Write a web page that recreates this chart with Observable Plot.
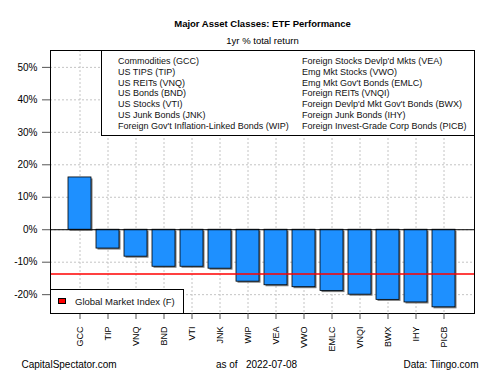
<!DOCTYPE html>
<html>
<head>
<meta charset="utf-8">
<script src="https://cdn.jsdelivr.net/npm/d3@7"></script>
<script src="https://cdn.jsdelivr.net/npm/@observablehq/plot@0.6"></script>
<style>
  html, body { margin: 0; padding: 0; background: #fff; }
  #wrap { position: relative; width: 500px; height: 375px; font-family: "Liberation Sans", Arial, sans-serif; color: #000; }
  #wrap svg { position: absolute; left: 0; top: 0; }
  .leg { position: absolute; background: #fff; border: 1px solid #000; box-sizing: border-box; font-size: 9px; }
  .leg .item { position: absolute; white-space: nowrap; line-height: 10px; color: #111; }
  .sw { position: absolute; width: 8px; height: 6px; background: #ff0000; border: 1px solid #000; box-sizing: border-box; }
</style>
</head>
<body>
<div id="wrap"></div>
<script>
// ---- data ----
const tickers = ["GCC","TIP","VNQ","BND","VTI","JNK","WIP","VEA","VWO","EMLC","VNQI","BWX","IHY","PICB"];
const returns = [16.1,-5.8,-8.3,-11.4,-11.4,-12.0,-16.0,-17.1,-17.7,-18.9,-20.0,-21.6,-22.4,-23.9];
const names1 = ["Commodities (GCC)","US TIPS (TIP)","US REITs (VNQ)","US Bonds (BND)","US Stocks (VTI)","US Junk Bonds (JNK)","Foreign Gov't Inflation-Linked Bonds (WIP)"];
const names2 = ["Foreign Stocks Devlp'd Mkts (VEA)","Emg Mkt Stocks (VWO)","Emg Mkt Gov't Bonds (EMLC)","Foreign REITs (VNQI)","Foreign Devlp'd Mkt Gov't Bonds (BWX)","Foreign Junk Bonds (IHY)","Foreign Invest-Grade Corp Bonds (PICB)"];
const benchmarkName = "Global Market Index (F)";
const benchmark = [-13.6];
const yTicks = [-20,-10,0,10,20,30,40,50];
const yDomain = [-25.8, 55.2];
const title = "Major Asset Classes: ETF Performance";
const subtitle = "1yr % total return";
const footLeft = "CapitalSpectator.com";
const footMid = "as of\u00a0\u00a0\u00a02022-07-08";
const footRight = "Data: Tiingo.com";

const data = tickers.map((t, i) => ({ticker: t, ret: returns[i]}));

const chart = Plot.plot({
  width: 500,
  height: 375,
  marginLeft: 50,
  marginRight: 26,
  marginTop: 50,
  marginBottom: 62,
  style: {fontFamily: "Liberation Sans, Arial, sans-serif", fontSize: "9px", color: "#000", background: "#fff"},
  x: {domain: tickers, paddingInner: 0.167, paddingOuter: 0.51, label: null, axis: null},
  y: {domain: yDomain, label: null, axis: null},
  marks: [
    Plot.ruleY(yTicks, {stroke: "#c4c4c4", strokeDasharray: "2,2", strokeWidth: 1}),
    Plot.ruleX(tickers, {x: d => d, stroke: "#c4c4c4", strokeDasharray: "2,2", strokeWidth: 1}),
    Plot.barY(data, {x: "ticker", y: "ret", fill: "#777", dx: 1.5, dy: 1.5}),
    Plot.barY(data, {x: "ticker", y: "ret", fill: "#1E90FF", stroke: "#000", strokeWidth: 0.8}),
    Plot.ruleY([0], {stroke: "#000", strokeWidth: 1}),
    Plot.ruleY(benchmark, {stroke: "#ff0000", strokeWidth: 1.5}),
    Plot.frame({stroke: "#000", strokeWidth: 1}),
    Plot.axisY(yTicks, {tickFormat: d => `${d}%`, tickSize: 8, tickPadding: 5, fontSize: 10, stroke: "#555", fill: "#000", label: null}),
    Plot.axisX({tickRotate: -90, tickSize: 6, tickPadding: 7, fontSize: 9, stroke: "#555", fill: "#000", label: null}),
    Plot.text([title], {text: d => d, frameAnchor: "top", dy: -30, fontWeight: "bold", fontSize: 9.5}),
    Plot.text([subtitle], {text: d => d, frameAnchor: "top", dy: -13, fontSize: 9.5}),
    Plot.text([footLeft], {text: d => d, frameAnchor: "bottom-left", dx: -29, dy: 54, textAnchor: "start", fontSize: 10}),
    Plot.text([footMid], {text: d => d, frameAnchor: "bottom", dx: -6, dy: 54, fontSize: 10}),
    Plot.text([footRight], {text: d => d, frameAnchor: "bottom-right", dx: 4, dy: 54, textAnchor: "end", fontSize: 10})
  ]
});

const wrap = document.getElementById("wrap");
wrap.appendChild(chart);

// top legend
const leg = document.createElement("div");
leg.className = "leg";
Object.assign(leg.style, {left: "101px", top: "50px", width: "374px", height: "86px"});
names1.forEach((n, i) => {
  const d = document.createElement("div");
  d.className = "item"; d.textContent = n;
  Object.assign(d.style, {left: "16px", top: (5 + i * 10.8) + "px"});
  leg.appendChild(d);
});
names2.forEach((n, i) => {
  const d = document.createElement("div");
  d.className = "item"; d.textContent = n;
  Object.assign(d.style, {left: "200px", top: (5 + i * 10.8) + "px"});
  leg.appendChild(d);
});
wrap.appendChild(leg);

// bottom legend
const leg2 = document.createElement("div");
leg2.className = "leg";
Object.assign(leg2.style, {left: "50px", top: "289px", width: "134px", height: "25px", fontSize: "9.5px"});
const sw = document.createElement("div");
sw.className = "sw";
Object.assign(sw.style, {left: "7px", top: "8px"});
leg2.appendChild(sw);
const t2 = document.createElement("div");
t2.className = "item"; t2.textContent = benchmarkName;
Object.assign(t2.style, {left: "24px", top: "7px"});
leg2.appendChild(t2);
wrap.appendChild(leg2);
</script>
</body>
</html>
